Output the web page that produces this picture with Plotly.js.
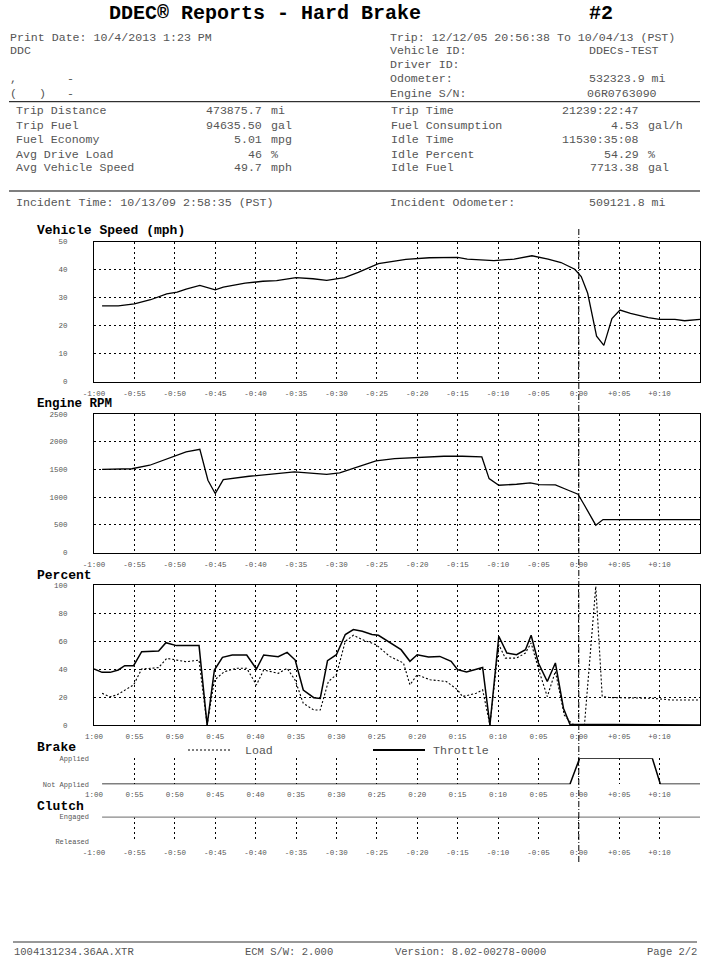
<!DOCTYPE html>
<html>
<head>
<meta charset="utf-8">
<script src="https://cdn.plot.ly/plotly-3.0.1.min.js"></script>
<style>
html,body{margin:0;padding:0;background:#fff;}
#chart{width:709px;height:961px;}
</style>
</head>
<body>
<div id="chart"></div>
<script>
// ---------- DATA ----------
const tickVals = [-60,-55,-50,-45,-40,-35,-30,-25,-20,-15,-10,-5,0,5,10,15];
const tickSigned = ['-1:00','-0:55','-0:50','-0:45','-0:40','-0:35','-0:30','-0:25','-0:20','-0:15','-0:10','-0:05','0:00','+0:05','+0:10','+0:15'];
const tickUnsigned = ['1:00','0:55','0:50','0:45','0:40','0:35','0:30','0:25','0:20','0:15','0:10','0:05','0:00','+0:05','+0:10','+0:15'];
const innerGridVals = [-55,-50,-45,-40,-35,-30,-25,-20,-15,-10,-5,0,5,10];

const speedTime = [-59,-57,-55,-53,-51,-49.7,-48.6,-46.9,-45,-44,-41.3,-39.1,-37.4,-35,-32.9,-31.2,-29,-27.3,-24.8,-21.4,-18.5,-15,-13.8,-10.5,-8,-5.8,-3.8,-2.2,-0.5,0.3,1.1,2.2,3.1,4.1,5.1,6.4,8.6,10,11.9,13.1,15];
const speedMph = [27.0,27.0,27.7,29.2,31.3,31.9,33.0,34.3,32.7,33.7,35.1,35.8,36.0,37.1,36.7,36.1,37.1,39.0,42.1,43.6,44.2,44.3,43.7,43.2,43.7,44.9,43.7,42.5,40.1,37.5,31.5,16.2,12.9,22.5,25.5,24.3,22.8,22.2,22.2,21.7,22.2];

const rpmTime = [-59,-55.3,-53.1,-50.3,-48.6,-46.9,-45.9,-45,-44,-40.8,-38,-35.2,-32.4,-31.2,-29.6,-27.3,-25.1,-22.8,-18.4,-16.7,-14.4,-12,-11.1,-9.9,-7.7,-6,-4.9,-2.9,-1.3,-0.1,0.7,1.3,2.1,3,15];
const rpmValues = [1500,1512,1575,1725,1815,1863,1304,1064,1316,1376,1412,1454,1424,1412,1436,1545,1653,1695,1725,1737,1737,1725,1334,1214,1232,1256,1226,1220,1124,1052,853,703,493,595,595];

const throttleTime = [-60,-59,-58,-57,-56.2,-55.1,-54.1,-52,-51.1,-49.8,-47,-46,-45.1,-44.1,-42.9,-41.1,-39.9,-39,-37.2,-36.1,-35.1,-34.1,-32.8,-32,-31.1,-30,-28.9,-27.9,-26.8,-25.6,-24.8,-24,-22,-20.9,-20,-18.6,-17.2,-15.8,-15,-13.9,-11.9,-11,-9.9,-8.9,-7.7,-6.6,-5.9,-5,-3.9,-2.9,-1.9,-1.1,15];
const throttlePct = [40,37.6,37.6,39.3,42.4,42.4,52.4,52.9,58.8,56.7,56.7,0,39.3,48.3,50,50,40,50,48.8,51.9,46.4,25,19.5,19,46,50.2,64.6,68.2,67,64.6,64.1,61,53.8,45.5,50.2,48.6,49,45.5,39.5,37.8,41.1,0,63.4,51.4,50.2,53.8,64.1,44.3,31.1,44.3,12,0.5,0];

const loadTime = [-59,-58,-57.2,-55.9,-55.1,-54.1,-52,-51,-49.8,-48.6,-47,-46,-45.1,-43.9,-42.4,-41.1,-39.9,-39,-37.2,-36.1,-35.1,-34.1,-32.8,-32,-31,-30,-28.9,-27.9,-26.8,-25.1,-23.4,-21.7,-20.9,-20,-18.4,-16.4,-15,-14.4,-12.7,-11.9,-11,-9.9,-9.1,-7.7,-6.6,-5.9,-4.9,-3.9,-2.9,-1.8,-0.8,0.7,2.1,2.9,3.8,6.9,9.1,11.4,15];
const loadPct = [22.6,20.2,21.4,26.2,28.6,40,41,47.6,46.4,45.2,46.4,0,32,38,40.5,40.5,28.6,39.3,36.9,40.5,32,15.5,10.7,10.7,31,35.9,59.8,64.1,61,57.4,49,44.3,28.7,35.9,32.3,31.1,25.1,20.3,22.7,25.1,0,57.4,47.8,47.8,51.4,58.6,38.3,20.3,38.3,7.2,0.5,0,99,20.3,19.6,19.6,19.1,17.9,17.9];

const brakeTime = [-59,-1.1,0.1,9.1,10.1,15];
const brakeState = [0,0,1,1,0,0];
const clutchTime = [-59,15];
const clutchState = [1,1];

// ---------- LAYOUT HELPERS ----------
const W = 709, H = 961;
const MONO = 'Liberation Mono, DejaVu Sans Mono, monospace';
const TXT = '#555';
const px = x => x / W;
const py = y => 1 - y / H;
const dom = (top, bottom) => [py(bottom), py(top)];
const XDOM = [px(94), px(700)];

function txt(text, x, y, o) {
  o = o || {};
  return {text: text, x: px(x), y: py(y), xref: 'paper', yref: 'paper',
    xanchor: o.anchor || 'left', yanchor: 'middle', showarrow: false, borderpad: 0,
    font: {family: MONO, size: o.size || 11.6, color: o.color || TXT}};
}
function hline(x0, x1, y, o) {
  o = o || {};
  return {type: 'line', xref: 'paper', yref: 'paper', x0: px(x0), x1: px(x1), y0: py(y), y1: py(y),
    line: {color: o.color || '#000', width: o.width || 1, dash: o.dash || 'solid'}};
}

const tickFont = {family: MONO, size: 7.5, color: '#555'};
const GRID = '2px,3px';

function xAxis(anchor, labels, boxed) {
  return {domain: XDOM, anchor: anchor, range: [-60, 15], tickmode: 'array', tickvals: tickVals,
    ticktext: labels, showgrid: !!boxed, gridcolor: '#000', griddash: GRID, gridwidth: 1,
    zeroline: false, showline: !!boxed, mirror: !!boxed, linecolor: '#000', linewidth: 1,
    ticks: '', tickfont: tickFont, ticklabelstandoff: 4, fixedrange: true};
}
function yAxis(anchor, top, bottom, range, dtick) {
  return {domain: dom(top, bottom), anchor: anchor, range: range, dtick: dtick, tick0: 0,
    showgrid: true, gridcolor: '#000', griddash: GRID, gridwidth: 1, zeroline: false,
    showline: true, mirror: true, linecolor: '#000', linewidth: 1, ticks: '',
    tickfont: tickFont, ticklabelstandoff: 24, fixedrange: true};
}
function stateAxis(anchor, top, bottom, labels) {
  return {domain: dom(top, bottom), anchor: anchor, range: [0, 1], tickmode: 'array',
    tickvals: [0, 1], ticktext: labels, showgrid: false, zeroline: false, showline: false,
    ticks: '', tickfont: {family: MONO, size: 7, color: '#555'}, ticklabelstandoff: 4, fixedrange: true};
}
function gridOverlay(over, anchor) {
  return {domain: XDOM, anchor: anchor, overlaying: over, range: [-60, 15], tickmode: 'array',
    tickvals: innerGridVals, showticklabels: false, showgrid: true, gridcolor: '#000',
    griddash: GRID, gridwidth: 1, zeroline: false, showline: false, ticks: '', fixedrange: true};
}

// ---------- TRACES ----------
const solid = {color: '#000', width: 1.3};
const traces = [
  {x: speedTime, y: speedMph, xaxis: 'x', yaxis: 'y', type: 'scatter', mode: 'lines', line: solid, name: 'Vehicle Speed'},
  {x: rpmTime, y: rpmValues, xaxis: 'x2', yaxis: 'y2', type: 'scatter', mode: 'lines', line: solid, name: 'Engine RPM'},
  {x: loadTime, y: loadPct, xaxis: 'x3', yaxis: 'y3', type: 'scatter', mode: 'lines', line: {color: '#000', width: 1.1, dash: '2px,2px'}, name: 'Load'},
  {x: throttleTime, y: throttlePct, xaxis: 'x3', yaxis: 'y3', type: 'scatter', mode: 'lines', line: {color: '#000', width: 1.5}, name: 'Throttle'},
  {x: brakeTime, y: brakeState, xaxis: 'x4', yaxis: 'y4', type: 'scatter', mode: 'lines', line: {color: '#000', width: 1.5}, name: 'Brake', cliponaxis: false},
  {x: clutchTime, y: clutchState, xaxis: 'x5', yaxis: 'y5', type: 'scatter', mode: 'lines', line: {color: '#888', width: 2.5}, name: 'Clutch', cliponaxis: false},
  {x: [], y: [], xaxis: 'x6', yaxis: 'y4', type: 'scatter', mode: 'lines', showlegend: false},
  {x: [], y: [], xaxis: 'x7', yaxis: 'y5', type: 'scatter', mode: 'lines', showlegend: false}
];

// ---------- TEXT ----------
const ann = [
  txt('<b>DDEC® Reports - Hard Brake</b>', 108, 13, {size: 20, color: '#000'}),
  txt('<b>#2</b>', 588, 13, {size: 20, color: '#000'}),
  txt('Print Date: 10/4/2013 1:23 PM', 9, 37),
  txt('DDC', 9, 51),
  txt(',', 9, 79), txt('-', 66, 79),
  txt('(', 9, 93), txt(')', 38, 93), txt('-', 66, 93),
  txt('Trip: 12/12/05 20:56:38 To 10/04/13 (PST)', 389, 37),
  txt('Vehicle ID:', 389, 51), txt('DDECs-TEST', 588, 51),
  txt('Driver ID:', 389, 65),
  txt('Odometer:', 389, 79), txt('532323.9 mi', 667, 79, {anchor: 'right'}),
  txt('Engine S/N:', 389, 93), txt('06R0763090', 586, 93),

  txt('Trip Distance', 15, 111), txt('473875.7', 263, 111, {anchor: 'right'}), txt('mi', 270, 111),
  txt('Trip Fuel', 15, 125), txt('94635.50', 263, 125, {anchor: 'right'}), txt('gal', 270, 125),
  txt('Fuel Economy', 15, 139.5), txt('5.01', 263, 139.5, {anchor: 'right'}), txt('mpg', 270, 139.5),
  txt('Avg Drive Load', 15, 154), txt('46', 263, 154, {anchor: 'right'}), txt('%', 270, 154),
  txt('Avg Vehicle Speed', 15, 167.5), txt('49.7', 263, 167.5, {anchor: 'right'}), txt('mph', 270, 167.5),

  txt('Trip Time', 390, 111), txt('21239:22:47', 640, 111, {anchor: 'right'}),
  txt('Fuel Consumption', 390, 125), txt('4.53', 640, 125, {anchor: 'right'}), txt('gal/h', 647, 125),
  txt('Idle Time', 390, 139.5), txt('11530:35:08', 640, 139.5, {anchor: 'right'}),
  txt('Idle Percent', 390, 154), txt('54.29', 640, 154, {anchor: 'right'}), txt('%', 647, 154),
  txt('Idle Fuel', 390, 167.5), txt('7713.38', 640, 167.5, {anchor: 'right'}), txt('gal', 647, 167.5),

  txt('Incident Time: 10/13/09 2:58:35 (PST)', 15, 202),
  txt('Incident Odometer:', 389, 202), txt('509121.8 mi', 667, 202, {anchor: 'right'}),

  txt('<b>Vehicle Speed (mph)</b>', 36, 230, {size: 13, color: '#000'}),
  txt('<b>Engine RPM</b>', 36, 404, {size: 12.5, color: '#000'}),
  txt('<b>Percent</b>', 36, 575, {size: 13, color: '#000'}),
  txt('<b>Brake</b>', 36, 747, {size: 13, color: '#000'}),
  txt('<b>Clutch</b>', 36, 806, {size: 13, color: '#000'}),

  txt('Load', 244, 750),
  txt('Throttle', 432, 750),

  txt('1004131234.36AA.XTR', 13, 952, {size: 10.5}),
  txt('ECM S/W: 2.000', 244, 952, {size: 10.5}),
  txt('Version: 8.02-00278-0000', 394, 952, {size: 10.5}),
  txt('Page 2/2', 698, 952, {size: 10.5, anchor: 'right'})
];

const shapes = [
  hline(9, 700, 101.7),
  hline(9, 700, 191, {color: '#555', width: 1.5}),
  hline(13, 697, 942, {color: '#333', width: 1.2}),
  hline(188, 231, 750, {dash: '2px,2px', width: 1.2}),
  hline(373, 425, 750, {width: 2}),
  {type: 'line', xref: 'x', yref: 'paper', x0: 0, x1: 0, y0: py(862), y1: py(228),
   line: {color: '#000', width: 1, dash: '6px,2px,1px,2px'}}
];

const layout = {
  width: W, height: H, margin: {l: 0, r: 0, t: 0, b: 0},
  paper_bgcolor: '#fff', plot_bgcolor: '#fff', showlegend: false,
  font: {family: MONO},
  xaxis: xAxis('y', tickSigned, true),
  yaxis: yAxis('x', 241.5, 381.5, [0, 50], 10),
  xaxis2: xAxis('y2', tickSigned, true),
  yaxis2: yAxis('x2', 414, 552.5, [0, 2500], 500),
  xaxis3: xAxis('y3', tickUnsigned, true),
  yaxis3: yAxis('x3', 585, 725, [0, 100], 20),
  xaxis4: xAxis('y4', tickUnsigned, false),
  yaxis4: stateAxis('x4', 758.3, 784.3, ['Not Applied', 'Applied']),
  xaxis5: xAxis('y5', tickSigned, false),
  yaxis5: stateAxis('x5', 816.5, 842, ['Released', 'Engaged']),
  xaxis6: gridOverlay('x4', 'y4'),
  xaxis7: gridOverlay('x5', 'y5'),
  annotations: ann,
  shapes: shapes
};

Plotly.newPlot('chart', traces, layout, {staticPlot: true, displayModeBar: false});
</script>
</body>
</html>
